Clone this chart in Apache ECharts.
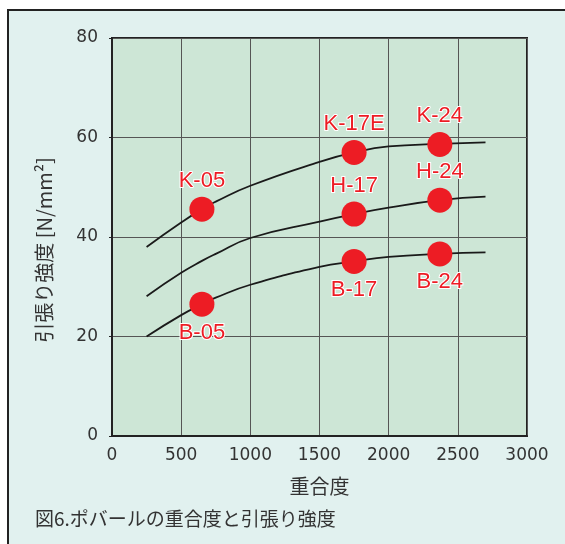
<!DOCTYPE html>
<html><head><meta charset="utf-8">
<script src="https://cdn.jsdelivr.net/npm/echarts@6/dist/echarts.min.js"></script>
<style>html,body{margin:0;padding:0;background:#fff}#c{width:565px;height:544px}</style>
</head><body><div id="c"></div>
<script>
// Curves (重合度 vs 引張り強度)
const curveX = [250, 500, 650, 750, 1000, 1500, 1750, 2000, 2370, 2700];
const curveK = [38.0, 42.9, 45.6, 47.1, 50.3, 55.1, 57.0, 58.2, 58.7, 59.0];
const curveH = [28.1, 32.8, 35.2, 36.6, 39.8, 43.1, 44.6, 45.9, 47.4, 48.1];
const curveB = [20.0, 24.3, 26.5, 27.8, 30.4, 34.0, 35.1, 36.0, 36.6, 36.9];
// Grade points
const pointNames = ['K-05', 'K-17E', 'K-24', 'H-17', 'H-24', 'B-05', 'B-17', 'B-24'];
const pointX = [650, 1750, 2370, 1750, 2370, 650, 1750, 2370];
const pointY = [45.6, 57.0, 58.6, 44.6, 47.4, 26.5, 35.1, 36.6];
const xName = '重合度';
const yName = '引張り強度 [N/mm²]';
const caption = '図6.ポバールの重合度と引張り強度';

const chart = echarts.init(document.getElementById('c'));
const latin = '"DejaVu Sans", sans-serif';
const labelFont = '"Liberation Sans", Arial, sans-serif';
const cjk = '"Noto Sans CJK JP", sans-serif';

function lineSeries(ys) {
  return {
    type: 'line', data: curveX.map((x, i) => [x, ys[i]]),
    smooth: 0.5, showSymbol: false, silent: true, z: 2,
    lineStyle: { color: '#1a1a1a', width: 1.8 }
  };
}

chart.setOption({
  animation: false,
  graphic: [
    { type: 'rect', z: -10, shape: { x: 8, y: 10, width: 620, height: 600 },
      style: { fill: '#e1f1ef', stroke: '#222', lineWidth: 2 } },
    { type: 'text', left: 35, top: 509, z: 10,
      style: { text: caption, font: '19px ' + cjk, fill: '#333' } }
  ],
  grid: { left: 112, right: 38, top: 38, bottom: 108, show: true,
          backgroundColor: '#cde6d6', borderColor: '#222', borderWidth: 2 },
  xAxis: {
    type: 'value', min: 0, max: 3000, interval: 500,
    name: xName, nameLocation: 'middle', nameGap: 40,
    nameTextStyle: { fontFamily: cjk, fontSize: 20, color: '#333' },
    axisLine: { show: true, lineStyle: { color: '#222', width: 2 } },
    axisTick: { show: false },
    axisLabel: { fontFamily: latin, fontSize: 17, color: '#333', margin: 11,
                 formatter: v => String(v) },
    splitLine: { show: true, lineStyle: { color: '#555', width: 1 } }
  },
  yAxis: {
    type: 'value', min: 0, max: 80, interval: 20,
    name: yName, nameLocation: 'middle', nameGap: 58, nameRotate: 90,
    nameTextStyle: { fontFamily: cjk, fontSize: 20, color: '#333', padding: [0, 26, 0, 0] },
    axisLine: { show: true, lineStyle: { color: '#222', width: 2 } },
    axisTick: { show: true, length: 3, lineStyle: { color: '#222' } },
    axisLabel: { fontFamily: latin, fontSize: 17, color: '#333', margin: 14,
                 formatter: v => String(v) },
    splitLine: { show: true, lineStyle: { color: '#555', width: 1 } }
  },
  series: [
    lineSeries(curveK), lineSeries(curveH), lineSeries(curveB),
    {
      type: 'scatter', z: 5, symbolSize: 25,
      itemStyle: { color: '#ed1c24', opacity: 1 },
      data: pointNames.map((n, i) => ({
        name: n, value: [pointX[i], pointY[i]],
        label: { position: n.startsWith('B') ? 'bottom' : 'top' }
      })),
      label: {
        show: true, formatter: p => p.name, distance: 5,
        fontFamily: labelFont, fontSize: 22, color: '#ed1c24',
        textBorderColor: '#fff', textBorderWidth: 2
      }
    }
  ]
});
</script></body></html>
